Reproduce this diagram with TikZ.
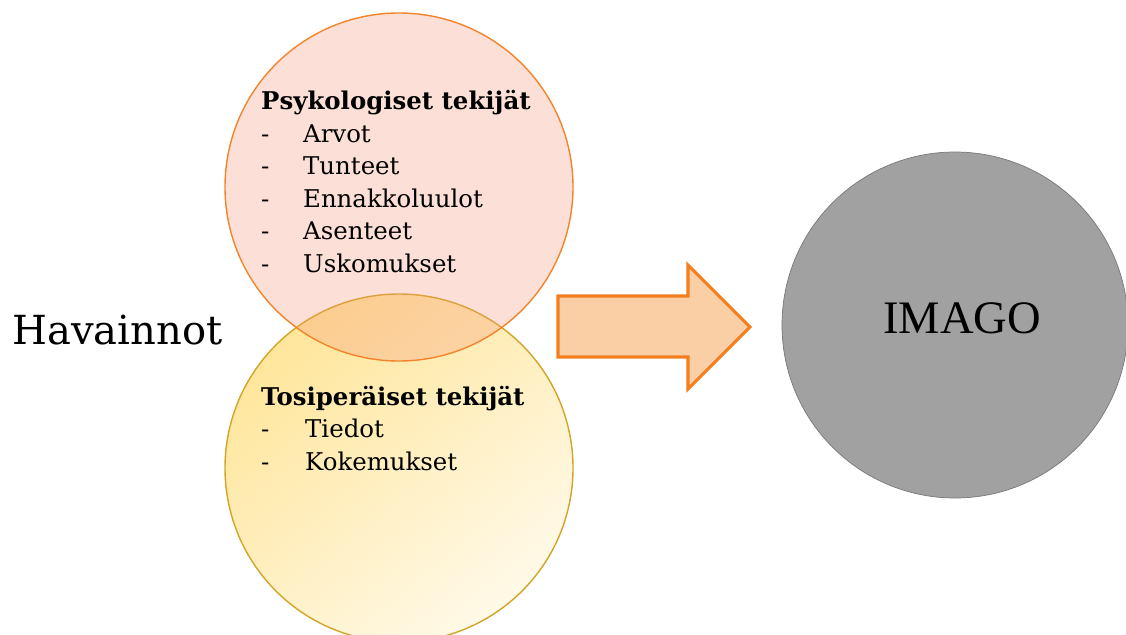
\documentclass[tikz,border=0pt]{standalone}
\usepackage{fontspec}
\usepackage{xcolor}
\usepackage{tikz}
\usetikzlibrary{calc}
\setmainfont{DejaVu Serif}
\newfontfamily\timesfont{Liberation Serif}
\definecolor{psyfill}{RGB}{246, 150, 118}
\definecolor{psyedge}{RGB}{244, 132, 42}
\definecolor{tosiA}{RGB}{255, 230, 155}
\definecolor{tosiB}{RGB}{255, 249, 232}
\definecolor{tosiedge}{RGB}{210, 165, 40}
\definecolor{arrowfill}{RGB}{251, 207, 166}
\definecolor{arrowedge}{RGB}{244, 126, 30}
\definecolor{imagofill}{RGB}{161, 161, 161}
\definecolor{imagoedge}{RGB}{120, 120, 120}

\begin{document}
\begin{tikzpicture}[x=0.02cm, y=-0.02cm,
  head/.style={anchor=base west, font=\bfseries\fontsize{13.9}{16}\selectfont},
  item/.style={anchor=base west, font=\fontsize{13.9}{16}\selectfont}]
\useasboundingbox (0,0) rectangle (1126,635);
\clip (0,0) rectangle (1126,635);

% Lower circle (facts)
\node[circle, draw=tosiedge, thick, minimum size=348*0.02cm,
  top color=tosiA, bottom color=tosiB, shading angle=40] (tosi) at (399,468) {};

% Upper circle (psychology), see-through
\node[circle, draw=psyedge, thick, fill=psyfill, fill opacity=0.3,
  minimum size=348*0.02cm] (psy) at (399,187) {};

% Big arrow
\draw[arrowedge, fill=arrowfill, line width=1.8pt, line join=miter]
  (558,296) -- (688,296) -- (688,265) -- (750,327) -- (688,389) -- (688,357) -- (558,357) -- cycle;

% Result circle
\node[circle, draw=imagoedge, fill=imagofill, minimum size=346*0.02cm] (imago) at (955,325) {};
\node[anchor=base, font=\timesfont\fontsize{26.5}{30}\selectfont] (imagotxt) at (962,333) {IMAGO};

% Left label
\node[anchor=base west, font=\fontsize{22.8}{26}\selectfont, inner sep=0pt] (hav) at (12,344) {Havainnot};

% Psychological factors
\node[head] (psyhead) at (255,110) {Psykologiset tekijät};
\foreach \t [count=\i] in {Arvot,Tunteet,Ennakkoluulot,Asenteet,Uskomukset} {
  \node[item] (psy\i) at (255,110+32.4*\i) {\makebox[0.84cm][l]{-}\t};
}

% Factual factors
\node[head] (tosihead) at (255,405) {Tosiperäiset tekijät};
\foreach \t [count=\i] in {Tiedot,Kokemukset} {
  \node[item] (tosi\i) at (255,405+32.5*\i) {\makebox[0.88cm][l]{-}\t};
}
\end{tikzpicture}
\end{document}
